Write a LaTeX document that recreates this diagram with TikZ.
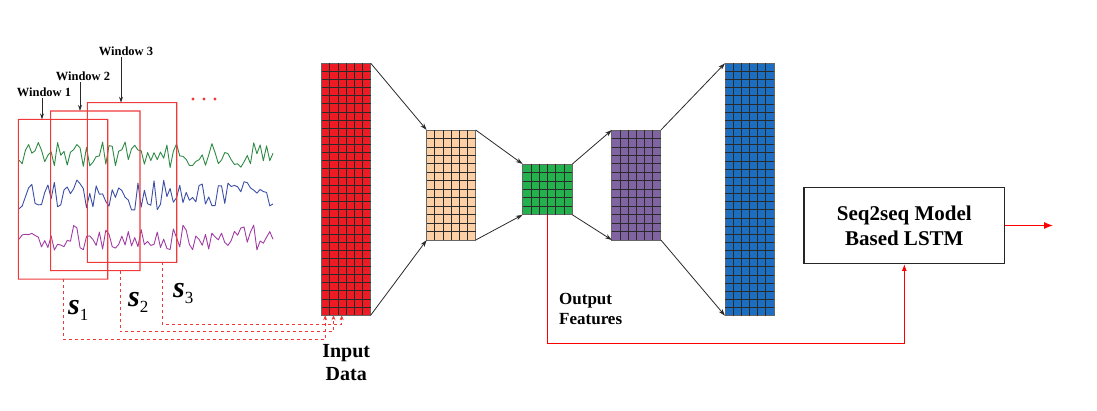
\documentclass[tikz,border=0pt]{standalone}
\usepackage{fontspec}
\setmainfont{Liberation Serif}
\usetikzlibrary{arrows.meta,calc,positioning,backgrounds}
\definecolor{inred}{HTML}{ED1C24}
\definecolor{encpeach}{HTML}{FCCFA4}
\definecolor{latgreen}{HTML}{22B14C}
\definecolor{decpurple}{HTML}{8064A2}
\definecolor{outblue}{HTML}{1C6FC0}
\definecolor{winred}{HTML}{F03A3A}
\definecolor{siggreen}{HTML}{2E8B45}
\definecolor{sigblue}{HTML}{3B4FA8}
\definecolor{sigpurple}{HTML}{A23CA5}
\definecolor{layerrim}{HTML}{666666}
\definecolor{cellink}{HTML}{2A2A2A}
\tikzset{layer/.style={draw=layerrim,line width=0.9pt,inner sep=0pt,outer sep=0pt,minimum width=49pt},
         cellline/.style={draw=cellink,line width=0.8pt},
         flow/.style={draw=cellink,line width=0.8pt,-{Stealth[length=7pt,width=4.5pt]}},
         winframe/.style={inner sep=0pt,outer sep=0pt,minimum width=89.4pt,minimum height=159.7pt},
         winlabel/.style={font=\fontsize{12.5}{14}\selectfont\bfseries,inner sep=1pt},
         feed/.style={draw=winred,dashed,line width=0.9pt,-{Stealth[length=5pt,width=4pt]}},
         feat/.style={draw=red,line width=1.2pt},
         signal/.style={draw=#1,line width=0.9pt,line join=round},
         seqbox/.style={draw=black!85,line width=1.2pt,minimum width=200.7pt,minimum height=75.6pt,
                        align=center,font=\fontsize{21}{25}\selectfont\bfseries}
         }
\newcommand{\cellgrid}[3]{%
  \pgfmathtruncatemacro{\gridcm}{#2-1}\pgfmathtruncatemacro{\gridrm}{#3-1}%
  \foreach \i in {1,...,\gridcm}
    \draw[cellline] ($(#1.north west)!\i/#2!(#1.north east)$) -- ($(#1.south west)!\i/#2!(#1.south east)$);
  \foreach \j in {1,...,\gridrm}
    \draw[cellline] ($(#1.north west)!\j/#3!(#1.south west)$) -- ($(#1.north east)!\j/#3!(#1.south east)$);
}
\newcommand{\slab}[1]{{\fontsize{30}{30}\selectfont\bfseries\itshape s}\raisebox{-6pt}{\fontsize{17}{17}\selectfont #1}}
\begin{document}
\begin{tikzpicture}[x=1pt,y=-1pt]
\useasboundingbox (0,0) rectangle (1097,410);
% signals
\pgfmathsetseed{3}
\draw[signal=siggreen] plot[domain=19:273,samples=80] (\x,{155+13*rand});
\draw[signal=sigblue] plot[domain=19:273,samples=80] (\x,{195+15*rand});
\draw[signal=sigpurple] plot[domain=19:273,samples=80] (\x,{238+13*rand});
% windows
\node[winframe] (w1) at (63,199.2) {};
\node[winframe] (w2) at (95.3,190.8) {};
\node[winframe] (w3) at (132,182.5) {};
\foreach \k in {1,2,3}
  \fill[winred,even odd rule]
    ([xshift=-0.55pt,yshift=-0.55pt]w\k.south west) rectangle ([xshift=0.55pt,yshift=0.55pt]w\k.north east)
    ([xshift=0.55pt,yshift=0.55pt]w\k.south west) rectangle ([xshift=-0.55pt,yshift=-0.55pt]w\k.north east);
\node[winlabel] (lab1) at (44,92.7) {Window 1};
\node[winlabel] (lab2) at (83,76.7) {Window 2};
\node[winlabel] (lab3) at (126,51) {Window 3};
\foreach \k/\dx in {1/-2,2/-3,3/-5}
  \draw[flow,-{Stealth[length=6pt,width=4pt]}] ([xshift=\dx pt]lab\k.south) -- ([xshift=\dx pt]lab\k.south |- w\k.north);
\foreach \x in {193,204,215} \fill[winred] (\x,99) circle (1.6pt);
\node[anchor=base west,inner sep=0pt] (s1) at (68,314) {\slab{1}};
\node[anchor=base west,inner sep=0pt] (s2) at (128,306.7) {\slab{2}};
\node[anchor=base west,inner sep=0pt] (s3) at (173,297.3) {\slab{3}};
% autoencoder
\node[layer,fill=inred,minimum height=252pt] (inp) at (346.2,189.2) {};
\node[layer,fill=encpeach,minimum height=110pt] (enc) at (451.2,185) {};
\node[layer,fill=latgreen,minimum width=49.6pt,minimum height=50.7pt] (lat) at (547.5,189.4) {};
\node[layer,fill=decpurple,minimum height=110pt] (dec) at (636.4,185) {};
\node[layer,fill=outblue,minimum height=252.4pt] (out) at (749.5,189.5) {};
\cellgrid{inp}{6}{31}
\cellgrid{enc}{6}{13}
\cellgrid{lat}{6}{6}
\cellgrid{dec}{6}{13}
\cellgrid{out}{6}{31}
\foreach \a/\b in {inp/enc,enc/lat,lat/dec,dec/out}{
  \draw[flow] (\a.north east) -- (\b.north west);
  \draw[flow] (\a.south east) -- (\b.south west);
}
\node[below=29pt of inp,align=center,inner sep=0pt,font=\fontsize{20}{23}\selectfont\bfseries] (inlabel) {Input\\Data};
% lstm
\node[seqbox] (lstm) at (904.3,225.5) {Seq2seq Model\\Based LSTM};
\coordinate (res) at (1053,225.5);
\node[anchor=north west,align=left,inner sep=0pt,font=\fontsize{17}{20}\selectfont\bfseries] (featlabel) at (559,293) {Output\\Features};
% red connectors, kept on the background layer
\begin{scope}[on background layer]
\draw[feed] (w1.south) -- ++(0,60.5) -| ([xshift=3.5pt]inp.south west);
\draw[feed] ([xshift=24.7pt]w2.south) -- ++(0,61) -| ([xshift=11.8pt]inp.south west);
\draw[feed] ([xshift=30pt]w3.south) -- ++(0,62) -| ([xshift=20pt]inp.south west);
\draw[feat,-{Latex[length=9pt,width=7pt]}] (lstm.east) -- (res);
\draw[feat,-{Latex[length=7pt,width=5pt]}] (lat.south) -- ++(0,128.5) -| (lstm.south);
\end{scope}
\end{tikzpicture}
\end{document}
